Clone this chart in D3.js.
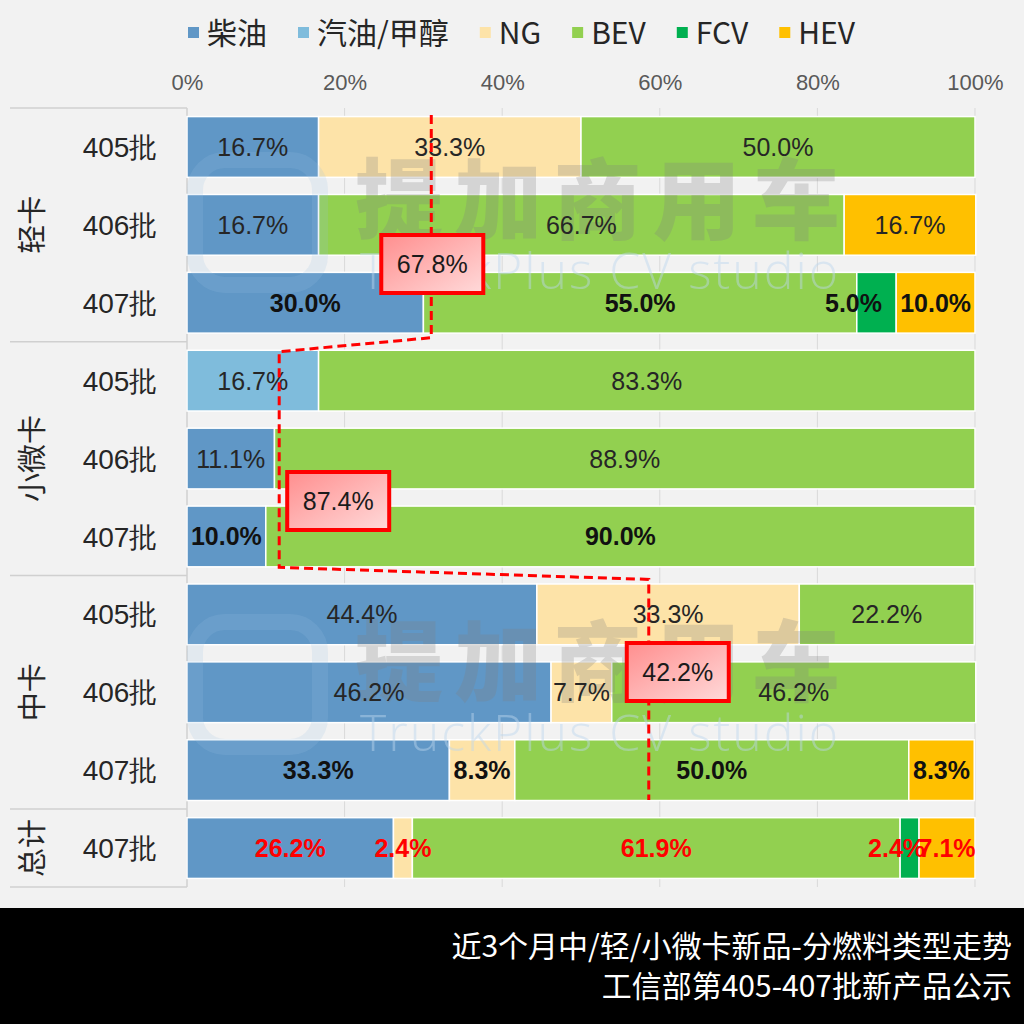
<!DOCTYPE html>
<html>
<head>
<meta charset="utf-8">
<script src="https://cdn.jsdelivr.net/npm/d3@7"></script>
<style>
  html, body { margin: 0; padding: 0; background: #f2f2f2; }
  svg { display: block; }
</style>
</head>
<body>
<svg id="chart"></svg>
<script>
// fuel types and colours
const seriesNames = ["柴油", "汽油/甲醇", "NG", "BEV", "FCV", "HEV"];
const seriesColors = ["#6097c6", "#7fbcdc", "#fde3a8", "#92d050", "#00b050", "#ffc000"];

// row categories (group / batch)
const groups = ["轻卡", "小微卡", "中卡", "总计"];
const groupBatches = [["405批", "406批", "407批"], ["405批", "406批", "407批"], ["405批", "406批", "407批"], ["407批"]];

// share of each fuel type per row, in %
const diesel   = [16.7, 16.7, 30.0, 0,    11.1, 10.0, 44.4, 46.2, 33.3, 26.2];
const gasoline = [0,    0,    0,    16.7, 0,    0,    0,    0,    0,    0];
const ng       = [33.3, 0,    0,    0,    0,    0,    33.3, 7.7,  8.3,  2.4];
const bev      = [50.0, 66.7, 55.0, 83.3, 88.9, 90.0, 22.2, 46.2, 50.0, 61.9];
const fcv      = [0,    0,    5.0,  0,    0,    0,    0,    0,    0,    2.4];
const hev      = [0,    16.7, 10.0, 0,    0,    0,    0,    0,    8.3,  7.1];

const ticks = [0, 20, 40, 60, 80, 100];

// trend annotation: new-energy share per group and where the dashed line runs (%)
const trendValues = ["67.8%", "87.4%", "42.2%"];
const trendLineX = [31.0, 11.7, 58.6];

const titleLines = ["近3个月中/轻/小微卡新品-分燃料类型走势", "工信部第405-407批新产品公示"];

const W = 1024, H = 1024;
const svg = d3.select("#chart").attr("width", W).attr("height", H);
svg.append("rect").attr("width", W).attr("height", H).attr("fill", "#f2f2f2");

const seriesData = [diesel, gasoline, ng, bev, fcv, hev];
const rows = [];
groups.forEach((g, gi) => groupBatches[gi].forEach(b => rows.push({ group: g, batch: b, id: g + "-" + b })));
rows.forEach((r, i) => seriesNames.forEach((s, si) => r[s] = seriesData[si][i]));

const stacked = d3.stack().keys(seriesNames)(rows);

const x = d3.scaleLinear().domain([0, 100]).range([187, 975]);
const y = d3.scaleBand().domain(rows.map(r => r.id)).range([108, 887]).paddingInner(0.22).paddingOuter(0.11);
const color = d3.scaleOrdinal().domain(seriesNames).range(seriesColors);

const numFont = "'Liberation Sans', Arial, sans-serif";
const cjkFont = "'Noto Sans CJK SC', 'Liberation Sans', sans-serif";

// gridlines
svg.append("g").selectAll("line").data(ticks.slice(1)).join("line")
  .attr("x1", d => x(d)).attr("x2", d => x(d))
  .attr("y1", 108).attr("y2", 887)
  .attr("stroke", "#d9d9d9").attr("stroke-width", 1);

// top axis labels
const xAxis = svg.append("g").attr("transform", "translate(0,82)")
  .call(d3.axisTop(x).tickValues(ticks).tickFormat(d => d + "%").tickSize(0));
xAxis.select(".domain").remove();
xAxis.selectAll("text")
  .attr("y", 0).attr("dy", "0.35em")
  .attr("font-family", "'Liberation Sans Narrow', 'Liberation Sans', sans-serif")
  .attr("font-size", 22).attr("fill", "#595959");

// left panel lines
const rowIndex = d3.cumsum([0].concat(groupBatches.map(b => b.length)));
const sepY = rowIndex.map(i => i === 0 ? 108 : (i === rows.length ? 887 : (y(rows[i - 1].id) + y.bandwidth() + y(rows[i].id)) / 2));
svg.append("g").selectAll("line").data(sepY).join("line")
  .attr("x1", 10).attr("x2", 187).attr("y1", d => d).attr("y2", d => d)
  .attr("stroke", "#d0d0d0").attr("stroke-width", 1.5);
svg.append("line").attr("x1", 187).attr("x2", 187).attr("y1", 108).attr("y2", 887)
  .attr("stroke", "#d0d0d0").attr("stroke-width", 1.5);

// bars
const layers = svg.append("g").selectAll("g").data(stacked).join("g")
  .attr("fill", d => color(d.key));
layers.selectAll("rect").data(d => d.filter(p => p[1] - p[0] > 0)).join("rect")
  .attr("x", d => x(d[0]))
  .attr("y", d => y(d.data.id))
  .attr("width", d => x(d[1]) - x(d[0]))
  .attr("height", y.bandwidth())
  .attr("stroke", "#ffffff").attr("stroke-width", 1.5);

// watermark
[0, 462].forEach(off => {
  const wm = svg.append("g").attr("transform", `translate(0,${off})`).attr("pointer-events", "none");
  wm.append("rect").attr("x", 195).attr("y", 160).attr("width", 125).attr("height", 125).attr("rx", 30)
    .attr("fill", "none").attr("stroke", "#9dc3e6").attr("stroke-width", 16).attr("opacity", 0.18);
  wm.append("text").attr("x", 355).attr("y", 232)
    .attr("font-family", cjkFont).attr("font-weight", 900).attr("font-size", 88)
    .attr("textLength", 485).attr("fill", "#808080").attr("opacity", 0.26)
    .text("提加商用车");
  wm.append("text").attr("x", 360).attr("y", 289)
    .attr("font-family", "'Open Sans', sans-serif").attr("font-weight", 300).attr("font-size", 50)
    .attr("textLength", 478).attr("fill", "#bdd7ee").attr("opacity", 0.45)
    .text("TruckPlus  CV studio");
});

// value labels
const nudge = { "轻卡-407批|FCV": -23, "总计-407批|FCV": -13 };
const labelLayers = svg.append("g").selectAll("g").data(stacked).join("g");
labelLayers.selectAll("text").data(d => d.filter(p => p[1] - p[0] > 0).map(p => ({ p, key: d.key }))).join("text")
  .attr("x", d => (x(d.p[0]) + x(d.p[1])) / 2 + (nudge[d.p.data.id + "|" + d.key] || 0))
  .attr("y", d => y(d.p.data.id) + y.bandwidth() / 2)
  .attr("dy", "0.36em")
  .attr("text-anchor", "middle")
  .attr("font-family", numFont)
  .attr("font-size", 25)
  .attr("font-weight", d => d.p.data.batch === "407批" ? "bold" : "normal")
  .attr("fill", d => d.p.data.group === "总计" ? "#ff0000" : (d.p.data.batch === "407批" ? "#111111" : "#262626"))
  .text(d => d3.format(".1f")(d.p.data[d.key]) + "%");

// batch labels
svg.append("g").selectAll("text").data(rows).join("text")
  .attr("x", 120).attr("y", d => y(d.id) + y.bandwidth() / 2).attr("dy", "0.36em")
  .attr("text-anchor", "middle").attr("font-family", numFont).attr("font-size", 28).attr("fill", "#262626")
  .text(d => d.batch);

// group labels (vertical)
svg.append("g").selectAll("text").data(groups).join("text")
  .attr("transform", (g, gi) => `translate(33,${(sepY[gi] + sepY[gi + 1]) / 2}) rotate(-90)`)
  .attr("dy", "0.36em").attr("text-anchor", "middle")
  .attr("font-family", cjkFont).attr("font-size", 29).attr("fill", "#262626")
  .text(d => d);

// trend dashed line
const lineY = [115, sepY[1] - 4, sepY[1] + 10, sepY[2] - 8, sepY[2] + 4, 800];
const pts = [
  [x(trendLineX[0]), lineY[0]], [x(trendLineX[0]), lineY[1]],
  [x(trendLineX[1]), lineY[2]], [x(trendLineX[1]), lineY[3]],
  [x(trendLineX[2]), lineY[4]], [x(trendLineX[2]), lineY[5]]
];
svg.append("path").attr("d", d3.line()(pts))
  .attr("fill", "none").attr("stroke", "#ff0000").attr("stroke-width", 3)
  .attr("stroke-dasharray", "9,5");

// annotation boxes
const defs = svg.append("defs");
const grad = defs.append("linearGradient").attr("id", "pinkGrad")
  .attr("x1", "0%").attr("y1", "0%").attr("x2", "100%").attr("y2", "100%");
grad.append("stop").attr("offset", "0%").attr("stop-color", "#ff8e8e");
grad.append("stop").attr("offset", "100%").attr("stop-color", "#ffdada");

const boxCenters = [
  [x(trendLineX[0]) + 1, 264],
  [x(trendLineX[1]) + 59, 501],
  [x(trendLineX[2]) + 29, 672]
];
const boxes = svg.append("g").selectAll("g").data(trendValues).join("g")
  .attr("transform", (d, i) => `translate(${boxCenters[i][0]},${boxCenters[i][1]})`);
boxes.append("rect").attr("x", -51).attr("y", -29).attr("width", 102).attr("height", 58)
  .attr("fill", "url(#pinkGrad)").attr("stroke", "#ff0000").attr("stroke-width", 4);
boxes.append("text").attr("text-anchor", "middle").attr("dy", "0.36em")
  .attr("font-family", numFont).attr("font-size", 25).attr("fill", "#1a1a1a")
  .text(d => d);

// legend
const legend = svg.append("g").attr("transform", "translate(188,33)");
let lx = 0;
seriesNames.forEach((s, i) => {
  const item = legend.append("g").attr("transform", `translate(${lx},0)`);
  item.append("rect").attr("x", 0).attr("y", -6).attr("width", 11).attr("height", 11).attr("fill", seriesColors[i]);
  const t = item.append("text").attr("x", 19).attr("dy", "0.36em")
    .attr("font-family", cjkFont).attr("font-size", 30).attr("fill", "#262626").text(s);
  lx += 19 + t.node().getComputedTextLength() + 31;
});

// bottom title band
svg.append("rect").attr("x", 0).attr("y", 908).attr("width", W).attr("height", H - 908).attr("fill", "#000000");
svg.append("g").selectAll("text").data(titleLines).join("text")
  .attr("x", 1012).attr("y", (d, i) => 946 + i * 40).attr("dy", "0.36em")
  .attr("text-anchor", "end").attr("font-family", cjkFont).attr("font-size", 30).attr("fill", "#ffffff")
  .text(d => d);
</script>
</body>
</html>
